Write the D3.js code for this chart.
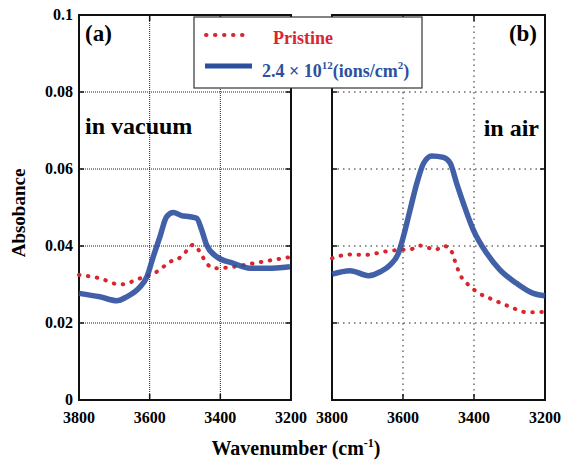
<!DOCTYPE html>
<html>
<head>
  <meta charset="utf-8">
  <script src="https://d3js.org/d3.v7.min.js"></script>
  <style>
    body { margin: 0; background: white; }
    text { font-family: 'Liberation Serif', 'Times New Roman', serif; font-weight: bold; }
  </style>
</head>
<body>
<svg id="chart"></svg>
<script>
  var width = 565, height = 460;

  // panel (a): in vacuum
  var vacWave =      [3800, 3741, 3693, 3665, 3627, 3608, 3590, 3571, 3552, 3533, 3510, 3486, 3467, 3453, 3439, 3410, 3363, 3316, 3269, 3203];
  var vacIrr =       [0.0277, 0.0268, 0.0258, 0.0268, 0.0294, 0.032, 0.0372, 0.0424, 0.0476, 0.0487, 0.0479, 0.0476, 0.0472, 0.0442, 0.0403, 0.0372, 0.0355, 0.0342, 0.0342, 0.0346];
  var vacPrisWave =  [3800, 3741, 3684, 3627, 3580, 3542, 3510, 3477, 3458, 3439, 3415, 3363, 3307, 3250, 3203];
  var vacPris =      [0.0325, 0.0316, 0.030, 0.0316, 0.0333, 0.0359, 0.0372, 0.0403, 0.0385, 0.0355, 0.0342, 0.0346, 0.0355, 0.0364, 0.0371];

  // panel (b): in air
  var airWave =      [3800, 3749, 3697, 3664, 3636, 3613, 3599, 3580, 3561, 3542, 3519, 3486, 3467, 3449, 3430, 3402, 3364, 3327, 3280, 3233, 3200];
  var airIrr =       [0.0327, 0.0336, 0.0323, 0.0333, 0.0351, 0.0381, 0.0424, 0.0494, 0.0563, 0.0615, 0.0634, 0.0630, 0.0615, 0.0563, 0.0511, 0.0442, 0.0381, 0.0338, 0.0303, 0.0277, 0.0271];
  var airPrisWave =  [3800, 3749, 3702, 3655, 3608, 3580, 3552, 3524, 3509, 3486, 3467, 3458, 3439, 3420, 3392, 3345, 3298, 3252, 3200];
  var airPris =      [0.0368, 0.0378, 0.0377, 0.0385, 0.039, 0.0391, 0.0401, 0.0394, 0.039, 0.040, 0.0394, 0.0372, 0.0325, 0.0303, 0.0281, 0.026, 0.0242, 0.0228, 0.0229];

  var yTicks = [0, 0.02, 0.04, 0.06, 0.08, 0.1];
  var yTickLabels = ["0", "0.02", "0.04", "0.06", "0.08", "0.1"];
  var xTicks = [3800, 3600, 3400, 3200];

  var blue = "#2c4f9e", red = "#d8262e";

  var svg = d3.select("#chart").attr("width", width).attr("height", height);

  var plotTop = 15, plotBottom = 400;
  var y = d3.scaleLinear().domain([0, 0.1]).range([plotBottom, plotTop]);

  var panels = [
    { x0: 79, x1: 291, grid: "1,1", irrW: vacWave, irr: vacIrr, prW: vacPrisWave, pr: vacPris, leftLabels: true },
    { x0: 332, x1: 545, grid: "1.5,4", irrW: airWave, irr: airIrr, prW: airPrisWave, pr: airPris, leftLabels: false }
  ];

  panels.forEach(function(p, i) {
    var x = d3.scaleLinear().domain([3800, 3200]).range([p.x0, p.x1]);
    var g = svg.append("g");

    // grid
    g.selectAll(".hg").data(yTicks.slice(1, 5)).enter().append("line")
      .attr("x1", p.x0).attr("x2", p.x1)
      .attr("y1", d => y(d)).attr("y2", d => y(d))
      .attr("stroke", "#222").attr("stroke-width", 1).attr("stroke-dasharray", p.grid);
    g.selectAll(".vg").data(xTicks.slice(1, 3)).enter().append("line")
      .attr("y1", plotTop).attr("y2", plotBottom)
      .attr("x1", d => x(d)).attr("x2", d => x(d))
      .attr("stroke", "#222").attr("stroke-width", 1).attr("stroke-dasharray", p.grid);

    // inward ticks
    yTicks.forEach(function(t) {
      g.append("line").attr("x1", p.x0).attr("x2", p.x0 + 5).attr("y1", y(t)).attr("y2", y(t)).attr("stroke", "#111").attr("stroke-width", 1.5);
      g.append("line").attr("x1", p.x1).attr("x2", p.x1 - 5).attr("y1", y(t)).attr("y2", y(t)).attr("stroke", "#111").attr("stroke-width", 1.5);
    });
    xTicks.forEach(function(t) {
      g.append("line").attr("y1", plotBottom).attr("y2", plotBottom - 6).attr("x1", x(t)).attr("x2", x(t)).attr("stroke", "#111").attr("stroke-width", 1.5);
      g.append("line").attr("y1", plotTop).attr("y2", plotTop + 6).attr("x1", x(t)).attr("x2", x(t)).attr("stroke", "#111").attr("stroke-width", 1.5);
    });

    // frame
    g.append("rect").attr("x", p.x0).attr("y", plotTop).attr("width", p.x1 - p.x0).attr("height", plotBottom - plotTop)
      .attr("fill", "none").attr("stroke", "#111").attr("stroke-width", 2);

    var line = d3.line().x(d => x(d[0])).y(d => y(d[1])).curve(d3.curveMonotoneX);

    g.append("path").datum(d3.zip(p.prW, p.pr)).attr("d", line)
      .attr("fill", "none").attr("stroke", red).attr("stroke-width", 4)
      .attr("stroke-linecap", "round").attr("stroke-dasharray", "0.5,8.5");
    g.append("path").datum(d3.zip(p.irrW, p.irr)).attr("d", line)
      .attr("fill", "none").attr("stroke", blue).attr("stroke-width", 5.5).attr("opacity", 0.9);

    // x tick labels
    g.selectAll(".xl").data(xTicks).enter().append("text")
      .attr("x", d => x(d)).attr("y", 423).attr("text-anchor", "middle")
      .attr("font-size", 16).text(d => d);

    if (p.leftLabels) {
      g.selectAll(".yl").data(yTicks).enter().append("text")
        .attr("x", 73).attr("y", d => y(d) + 5).attr("text-anchor", "end")
        .attr("font-size", 16).text((d, j) => yTickLabels[j]);
    }
  });

  // panel labels
  svg.append("text").attr("x", 85).attr("y", 41).attr("font-size", 23).text("(a)");
  svg.append("text").attr("x", 537).attr("y", 41).attr("text-anchor", "end").attr("font-size", 23).text("(b)");
  svg.append("text").attr("x", 85).attr("y", 134).attr("font-size", 24).text("in vacuum");
  svg.append("text").attr("x", 539).attr("y", 136).attr("text-anchor", "end").attr("font-size", 24).text("in air");

  // axis titles
  svg.append("text").attr("transform", "translate(25,213) rotate(-90)").attr("text-anchor", "middle")
    .attr("font-size", 19).text("Absobance");
  var xt = svg.append("text").attr("x", 296).attr("y", 455).attr("text-anchor", "middle").attr("font-size", 20);
  xt.append("tspan").text("Wavenumber (cm");
  xt.append("tspan").attr("dy", -8).attr("font-size", 12).text("-1");
  xt.append("tspan").attr("dy", 8).text(")");

  // legend
  var lg = svg.append("g");
  lg.append("rect").attr("x", 194).attr("y", 17).attr("width", 228).attr("height", 71)
    .attr("fill", "white").attr("stroke", "#333").attr("stroke-width", 1.2);
  lg.append("line").attr("x1", 206).attr("x2", 250).attr("y1", 35).attr("y2", 35)
    .attr("stroke", red).attr("stroke-width", 4).attr("stroke-linecap", "round").attr("stroke-dasharray", "0.5,8.5");
  lg.append("line").attr("x1", 205).attr("x2", 252).attr("y1", 66).attr("y2", 66)
    .attr("stroke", blue).attr("stroke-width", 5);
  lg.append("text").attr("x", 273).attr("y", 44).attr("font-size", 18).attr("fill", red).text("Pristine");
  var lt = lg.append("text").attr("x", 262).attr("y", 77).attr("font-size", 18).attr("fill", blue);
  lt.append("tspan").text("2.4 \u00D7 10");
  lt.append("tspan").attr("dy", -8).attr("font-size", 11).text("12");
  lt.append("tspan").attr("dy", 8).text("(ions/cm");
  lt.append("tspan").attr("dy", -8).attr("font-size", 11).text("2");
  lt.append("tspan").attr("dy", 8).text(")");
</script>
</body>
</html>
